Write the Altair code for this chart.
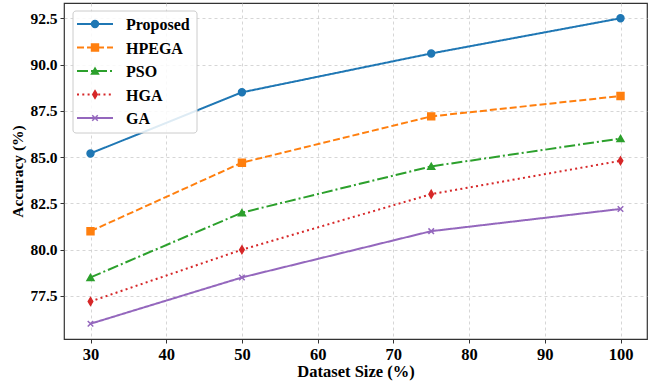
import altair as alt
import pandas as pd

sizes = [30, 50, 75, 100]
methods = ["Proposed", "HPEGA", "PSO", "HGA", "GA"]
proposed = [85.2, 88.5, 90.6, 92.5]
hpega = [81.0, 84.7, 87.2, 88.3]
pso = [78.5, 82.0, 84.5, 86.0]
hga = [77.2, 80.0, 83.0, 84.8]
ga = [76.0, 78.5, 81.0, 82.2]
x_ticks = [30, 40, 50, 60, 70, 80, 90, 100]
y_ticks = [77.5, 80.0, 82.5, 85.0, 87.5, 90.0, 92.5]

series = dict(zip(methods, [proposed, hpega, pso, hga, ga]))
rows = []
for m in methods:
    for s, v in zip(sizes, series[m]):
        rows.append({"Method": m, "Size": s, "Accuracy": v})
df = pd.DataFrame(rows)
leg_df = pd.DataFrame({"Method": methods, "idx": list(range(len(methods)))})

colors = ["#1f77b4", "#ff7f0e", "#2ca02c", "#d62728", "#9467bd"]
dashes = [[1, 0], [7, 3], [11, 3, 2, 3], [2, 3.3], [1, 0]]
shapes = ["circle", "square", "triangle-up", "M0,-1.1L0.65,0L0,1.1L-0.65,0Z", "M-0.8,-0.8L0.8,0.8M-0.8,0.8L0.8,-0.8"]

col = alt.Color("Method:N", scale=alt.Scale(domain=methods, range=colors), legend=None)
stk = alt.Stroke("Method:N", scale=alt.Scale(domain=methods, range=colors), legend=None)
dash = alt.StrokeDash("Method:N", scale=alt.Scale(domain=methods, range=dashes), legend=None)
shp = alt.Shape("Method:N", scale=alt.Scale(domain=methods, range=shapes), legend=None)

FONT = "Liberation Serif"

xenc = alt.X("Size:Q", title="Dataset Size (%)",
             scale=alt.Scale(domain=[26.5, 103.5], nice=False, zero=False),
             axis=alt.Axis(values=x_ticks, format="d"))
yenc = alt.Y("Accuracy:Q", title="Accuracy (%)",
             scale=alt.Scale(domain=[75.175, 93.325], nice=False, zero=False),
             axis=alt.Axis(values=y_ticks, format=".1f"))

lines = alt.Chart(df).mark_line(strokeWidth=2, strokeCap="butt").encode(
    x=xenc, y=yenc, color=col, strokeDash=dash, detail="Method:N"
)
points = alt.Chart(df).mark_point(filled=True, size=48, strokeWidth=1.5, opacity=1).encode(
    x=xenc, y=yenc, color=col, stroke=stk, shape=shp
)
main = alt.layer(lines, points)

ly = alt.Y("idx:Q", scale=alt.Scale(domain=[0, 4], range=[21, 115], nice=False, zero=False), axis=None)
box = alt.Chart(pd.DataFrame({"a": [1]})).mark_rect(
    fill="white", fillOpacity=0.85, stroke="#cccccc", strokeWidth=1, cornerRadius=3
).encode(x=alt.value(9), x2=alt.value(133), y=alt.value(8), y2=alt.value(130))
leg_lines = alt.Chart(leg_df).mark_rule(strokeWidth=2, strokeCap="butt").encode(
    x=alt.value(13), x2=alt.value(49), y=ly, color=col, strokeDash=dash
)
leg_pts = alt.Chart(leg_df).mark_point(filled=True, size=48, strokeWidth=1.5, opacity=1).encode(
    x=alt.value(31), y=ly, color=col, stroke=stk, shape=shp
)
leg_text = alt.Chart(leg_df).mark_text(
    align="left", baseline="middle", font=FONT, fontSize=16, fontWeight="bold", color="black", dy=1
).encode(x=alt.value(62), y=ly, text="Method:N")
legend = alt.layer(box, leg_lines, leg_pts, leg_text)

chart = alt.layer(main, legend).resolve_scale(y="independent").properties(
    width=583, height=336,
    autosize=alt.AutoSizeParams(type="none"),
    padding={"left": 64, "top": 3, "right": 1, "bottom": 46},
).configure_view(
    stroke="#333333", strokeWidth=1.2
).configure_axis(
    labelFont=FONT, labelFontWeight="bold", labelColor="black",
    titleFont=FONT, titleFontWeight="bold", titleColor="black",
    grid=True, gridColor="#cccccc", gridDash=[3, 3], gridWidth=0.8,
    tickColor="#333333", tickSize=4, labelPadding=3, domain=False,
).configure_axisY(titlePadding=4, labelFontSize=15.5, titleFontSize=15.5
).configure_axisX(titlePadding=1, labelFontSize=16.5, titleFontSize=16.5)

chart.save("out.html", embed_options={"renderer": "svg", "actions": False})
